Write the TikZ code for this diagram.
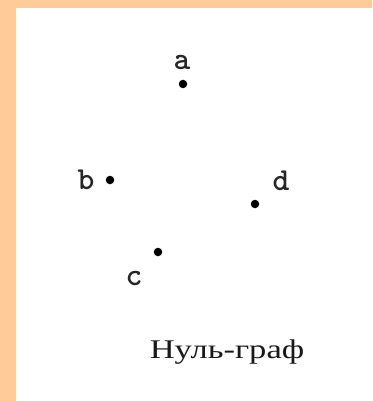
\documentclass[tikz,border=0pt]{standalone}
\usepackage{fontspec}
\setmainfont{Liberation Serif}
\definecolor{frameor}{HTML}{FFCC99}
\begin{document}
\begin{tikzpicture}[x=1pt,y=-1pt,
  vdot/.style={circle,fill=black,inner sep=0pt,minimum size=8.5pt},
  vlab/.style={font=\ttfamily\bfseries\fontsize{32}{32}\selectfont,inner sep=0pt,anchor=base,text=black!85}]
\useasboundingbox (0,0) rectangle (372,401);
\fill[frameor] (0,0) rectangle (372,401);
\fill[white] (16,8) rectangle (372,401);
\node[vdot] (a) at (183,84) {};
\node[vdot] (b) at (110,180) {};
\node[vdot] (c) at (158,252) {};
\node[vdot] (d) at (255,204) {};
\node[vlab] (la) at (182,70) {a};
\node[vlab] (lb) at (86,189) {b};
\node[vlab] (lc) at (134,285) {c};
\node[vlab] (ld) at (281,190) {d};
\node[font=\fontsize{27}{27}\selectfont,inner sep=0pt,anchor=base,xscale=1.28,text=black!90] (cap) at (227,358) {Нуль-граф};
\end{tikzpicture}
\end{document}
